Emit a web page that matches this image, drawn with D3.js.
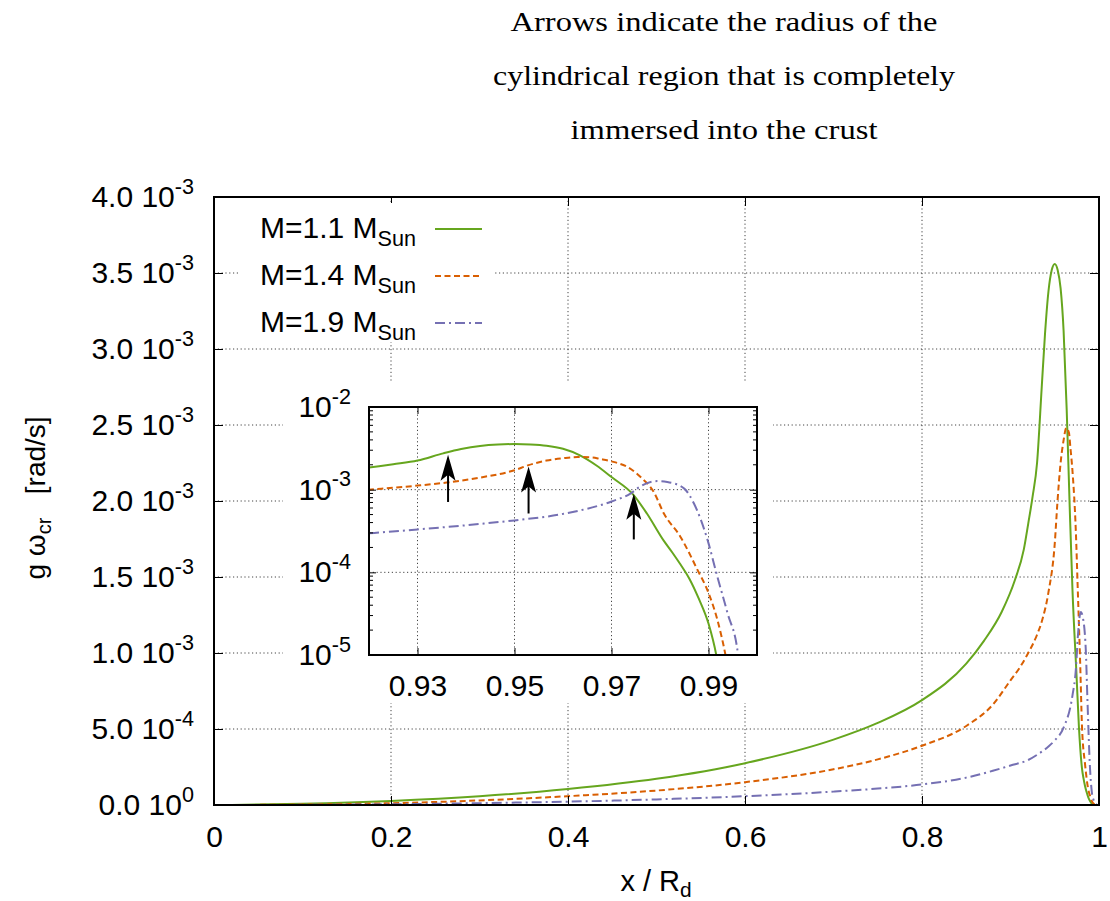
<!DOCTYPE html>
<html>
<head>
<meta charset="utf-8">
<script src="https://cdn.jsdelivr.net/npm/d3@7"></script>
<style>
  body { margin: 0; background: #fff; }
  svg { display: block; }
  .sans { font-family: "Liberation Sans", Arial, Helvetica, sans-serif; fill: #000; }
  .serif { font-family: "Liberation Serif", "Times New Roman", serif; fill: #000; }
</style>
</head>
<body>
<svg id="chart" width="1110" height="901"></svg>
<script>
// g*omega_cr in units of 1e-3 rad/s, as [x/R_d, value]
const m11 = [
  [0.02, 0], [0.1, 0.008], [0.2, 0.027], [0.3, 0.058], [0.4, 0.105], [0.5, 0.172],
  [0.6, 0.275], [0.7, 0.43], [0.75, 0.54], [0.8, 0.69], [0.85, 0.93], [0.87, 1.08],
  [0.89, 1.27], [0.905, 1.48], [0.915, 1.68], [0.92, 1.85], [0.925, 2.03], [0.93, 2.25],
  [0.9353, 2.75], [0.939, 3.1], [0.9429, 3.38], [0.9466, 3.52], [0.95, 3.56], [0.9533, 3.52],
  [0.9566, 3.4], [0.96, 3.12], [0.9635, 2.6], [0.9669, 1.96], [0.97, 1.42], [0.9746, 0.855],
  [0.9773, 0.515], [0.9808, 0.24], [0.9825, 0.175], [0.9842, 0.125], [0.986, 0.085],
  [0.988, 0.048], [0.99, 0.024], [0.9916, 0.010], [0.993, 0.003], [0.994, 0]
];
const m14 = [
  [0.02, 0], [0.1, 0.003], [0.2, 0.012], [0.3, 0.03], [0.4, 0.058], [0.5, 0.095],
  [0.6, 0.15], [0.7, 0.235], [0.75, 0.3], [0.8, 0.39], [0.85, 0.52], [0.88, 0.66],
  [0.9, 0.82], [0.91, 0.9], [0.92, 1.0], [0.93, 1.12], [0.936, 1.22], [0.9429, 1.4],
  [0.95, 1.72], [0.9529, 1.98], [0.9566, 2.25], [0.96, 2.4], [0.963, 2.48], [0.966, 2.45],
  [0.9677, 2.35], [0.97, 2.2], [0.9739, 1.79], [0.976, 1.42], [0.9787, 0.94], [0.9808, 0.515],
  [0.9842, 0.27], [0.9877, 0.108], [0.99, 0.0565], [0.9918, 0.027], [0.9935, 0.010],
  [0.995, 0.003], [0.996, 0]
];
const m19 = [
  [0.02, 0], [0.1, 0.001], [0.2, 0.005], [0.3, 0.012], [0.4, 0.022], [0.5, 0.037],
  [0.6, 0.058], [0.7, 0.088], [0.75, 0.108], [0.8, 0.135], [0.85, 0.18], [0.88, 0.225],
  [0.9, 0.26], [0.92, 0.296], [0.93, 0.33], [0.9429, 0.385], [0.95, 0.425], [0.9601, 0.51],
  [0.97, 0.72], [0.9739, 0.896], [0.976, 1.1], [0.9794, 1.27], [0.9815, 1.24], [0.985, 1.03],
  [0.987, 0.68], [0.9898, 0.247], [0.9918, 0.0896], [0.9939, 0.0325], [0.9961, 0.010],
  [0.997, 0.003], [0.998, 0]
];

const seriesMass = ['1.1', '1.4', '1.9'];
const seriesColors = ['#66a61e', '#d95f02', '#7570b3'];
const seriesDash = [null, '6,3.5', '10,4,2,4'];

const xTicks = [0, 0.2, 0.4, 0.6, 0.8, 1];
const yTicks = [0, 0.5e-3, 1.0e-3, 1.5e-3, 2.0e-3, 2.5e-3, 3.0e-3, 3.5e-3, 4.0e-3];
const insetXTicks = [0.93, 0.95, 0.97, 0.99];
const insetYTicks = [1e-5, 1e-4, 1e-3, 1e-2];

// arrows: radius of the cylinder fully inside the crust
const arrowX = [0.9363, 0.9529, 0.9746];
const arrowTail = [7.1e-4, 5.15e-4, 2.5e-4];
const arrowTip = [2.65e-3, 1.9e-3, 8.95e-4];

const titleLines = [
  'Arrows indicate the radius of the',
  'cylindrical region that is completely',
  'immersed into the crust'
];
const titleWidths = [427, 462, 307];

const series = [m11, m14, m19].map((rows) => rows.map((d) => [d[0], d[1] * 1e-3]));

const svg = d3.select('#chart');
const main = { left: 214, right: 1099, top: 197, bottom: 805 };
const inset = { left: 369, right: 757, top: 407, bottom: 655 };
const FONT = 30;

const x = d3.scaleLinear().domain([0, 1]).range([main.left, main.right]);
const y = d3.scaleLinear().domain([0, 4e-3]).range([main.bottom, main.top]);
const xi = d3.scaleLinear().domain([0.92, 1.0]).range([inset.left, inset.right]);
const yi = d3.scaleLog().domain([1e-5, 1e-2]).range([inset.bottom, inset.top]);

let defs = svg.append('defs');
defs.append('clipPath').attr('id', 'clip-main').append('rect')
  .attr('x', main.left).attr('y', main.top)
  .attr('width', main.right - main.left).attr('height', main.bottom - main.top);
defs.append('clipPath').attr('id', 'clip-inset').append('rect')
  .attr('x', inset.left).attr('y', inset.top)
  .attr('width', inset.right - inset.left).attr('height', inset.bottom - inset.top);

let gridStyle = (sel) => sel
  .attr('stroke', '#444')
  .attr('stroke-width', 1)
  .attr('stroke-dasharray', '1.2,2.6');

// title
svg.append('g').selectAll('text')
  .data(titleLines)
  .join('text')
  .attr('class', 'serif')
  .attr('x', 724)
  .attr('y', (d, i) => 31 + i * 54)
  .attr('text-anchor', 'middle')
  .attr('font-size', 28)
  .attr('textLength', (d, i) => titleWidths[i])
  .attr('lengthAdjust', 'spacingAndGlyphs')
  .text((d) => d);

// main grid
svg.append('g').selectAll('line')
  .data(xTicks.filter((t) => t > 0 && t < 1))
  .join('line')
  .attr('x1', (d) => x(d)).attr('x2', (d) => x(d))
  .attr('y1', main.top).attr('y2', main.bottom)
  .call(gridStyle);
svg.append('g').selectAll('line')
  .data(yTicks.filter((t) => t > 0 && t < 4e-3))
  .join('line')
  .attr('x1', main.left).attr('x2', main.right)
  .attr('y1', (d) => y(d)).attr('y2', (d) => y(d))
  .call(gridStyle);

// main curves
let line = d3.line()
  .x((d) => x(d[0]))
  .y((d) => y(d[1]))
  .curve(d3.curveMonotoneX);

svg.append('g').attr('clip-path', 'url(#clip-main)')
  .selectAll('path')
  .data(series)
  .join('path')
  .attr('fill', 'none')
  .attr('stroke', (d, i) => seriesColors[i])
  .attr('stroke-width', 2)
  .attr('stroke-dasharray', (d, i) => seriesDash[i])
  .attr('d', line);

// superscript labels like 2.5 10^-3
let sciLabel = function(text, mant, exp) {
  text.text(null);
  text.append('tspan').text(mant + '10');
  text.append('tspan').attr('font-size', '0.72em').attr('dy', '-0.62em').text(exp);
};

let styleAxis = (g) => {
  g.select('.domain').remove();
  g.selectAll('.tick line').attr('stroke', '#000').attr('stroke-width', 1);
  g.selectAll('.tick text').attr('class', 'sans').attr('font-family', null);
};

let axisX = svg.append('g')
  .attr('transform', `translate(0,${main.bottom})`)
  .call(d3.axisBottom(x).tickValues(xTicks).tickSizeInner(-9).tickSizeOuter(0)
    .tickPadding(21).tickFormat(d3.format('')))
  .call(styleAxis);
axisX.selectAll('text').attr('font-size', FONT);

svg.append('g')
  .attr('transform', `translate(0,${main.top})`)
  .call(d3.axisTop(x).tickValues(xTicks).tickSizeInner(-9).tickSizeOuter(0).tickFormat(() => ''))
  .call(styleAxis);

let axisY = svg.append('g')
  .attr('transform', `translate(${main.left},0)`)
  .call(d3.axisLeft(y).tickValues(yTicks).tickSizeInner(-9).tickSizeOuter(0).tickPadding(20))
  .call(styleAxis);
axisY.selectAll('.tick text')
  .attr('font-size', FONT)
  .each(function(d) {
    let exp = d === 0 ? 0 : Math.floor(Math.log10(d) + 1e-9);
    let mant = d === 0 ? 0 : d / Math.pow(10, exp);
    sciLabel(d3.select(this), mant.toFixed(1) + ' ', exp);
  });

svg.append('g')
  .attr('transform', `translate(${main.right},0)`)
  .call(d3.axisRight(y).tickValues(yTicks).tickSizeInner(-9).tickSizeOuter(0).tickFormat(() => ''))
  .call(styleAxis);

// axis titles
let yTitle = svg.append('text')
  .attr('class', 'sans')
  .attr('font-size', 28)
  .attr('text-anchor', 'middle')
  .attr('transform', 'translate(45,498) rotate(-90)')
  .style('white-space', 'pre');
yTitle.append('tspan').text('g \u03c9');
yTitle.append('tspan').attr('font-size', '0.72em').attr('dy', '0.3em').text('cr');
yTitle.append('tspan').attr('dy', '-0.216em').text('   [rad/s]');

let xTitle = svg.append('text')
  .attr('class', 'sans')
  .attr('font-size', 29)
  .attr('text-anchor', 'middle')
  .attr('x', 656)
  .attr('y', 891);
xTitle.append('tspan').text('x / R');
xTitle.append('tspan').attr('font-size', '0.72em').attr('dy', '0.3em').text('d');

// inset
svg.append('rect')
  .attr('x', 283).attr('y', 383)
  .attr('width', 490).attr('height', 320)
  .attr('fill', '#fff');

svg.append('g').selectAll('line')
  .data(insetXTicks)
  .join('line')
  .attr('x1', (d) => xi(d)).attr('x2', (d) => xi(d))
  .attr('y1', inset.top).attr('y2', inset.bottom)
  .call(gridStyle);
svg.append('g').selectAll('line')
  .data(insetYTicks.slice(1, -1))
  .join('line')
  .attr('x1', inset.left).attr('x2', inset.right)
  .attr('y1', (d) => yi(d)).attr('y2', (d) => yi(d))
  .call(gridStyle);

let lineLog = d3.line()
  .x((d) => xi(d[0]))
  .y((d) => yi(d[1]))
  .curve(d3.curveMonotoneX);

svg.append('g').attr('clip-path', 'url(#clip-inset)')
  .selectAll('path')
  .data(series.map((s) => s.filter((d) => d[0] >= 0.91 && d[1] > 0)))
  .join('path')
  .attr('fill', 'none')
  .attr('stroke', (d, i) => seriesColors[i])
  .attr('stroke-width', 2)
  .attr('stroke-dasharray', (d, i) => seriesDash[i])
  .attr('d', lineLog);

let minorTicks = [];
insetYTicks.slice(0, -1).forEach((t) => {
  for (let k = 2; k < 10; ++k) minorTicks.push(t * k);
});

let axisXi = svg.append('g')
  .attr('transform', `translate(0,${inset.bottom})`)
  .call(d3.axisBottom(xi).tickValues(insetXTicks).tickSizeInner(-7).tickSizeOuter(0)
    .tickPadding(20).tickFormat(d3.format('.2f')))
  .call(styleAxis);
axisXi.selectAll('text').attr('font-size', FONT);

svg.append('g')
  .attr('transform', `translate(0,${inset.top})`)
  .call(d3.axisTop(xi).tickValues(insetXTicks).tickSizeInner(-7).tickSizeOuter(0).tickFormat(() => ''))
  .call(styleAxis);

let axisYi = svg.append('g')
  .attr('transform', `translate(${inset.left},0)`)
  .call(d3.axisLeft(yi).tickValues(insetYTicks).tickSizeInner(-7).tickSizeOuter(0).tickPadding(18))
  .call(styleAxis);
axisYi.selectAll('.tick text')
  .attr('font-size', FONT)
  .each(function(d) {
    sciLabel(d3.select(this), '', Math.round(Math.log10(d)));
  });

svg.append('g')
  .attr('transform', `translate(${inset.right},0)`)
  .call(d3.axisRight(yi).tickValues(insetYTicks).tickSizeInner(-7).tickSizeOuter(0).tickFormat(() => ''))
  .call(styleAxis);

// log minor ticks, both sides
[[inset.left, 4], [inset.right, -4]].forEach(([px, len]) => {
  svg.append('g').selectAll('line')
    .data(minorTicks)
    .join('line')
    .attr('x1', px).attr('x2', px + len)
    .attr('y1', (d) => yi(d)).attr('y2', (d) => yi(d))
    .attr('stroke', '#000');
});

svg.append('rect')
  .attr('x', inset.left).attr('y', inset.top)
  .attr('width', inset.right - inset.left).attr('height', inset.bottom - inset.top)
  .attr('fill', 'none').attr('stroke', '#000').attr('stroke-width', 2);

// arrows
let arrows = svg.append('g').selectAll('g')
  .data(arrowX.map((ax, i) => ({ x: ax, tail: arrowTail[i], tip: arrowTip[i] })))
  .join('g')
  .attr('transform', (d) => `translate(${xi(d.x)},${yi(d.tip)})`);
arrows.append('line')
  .attr('x1', 0).attr('x2', 0)
  .attr('y1', 18).attr('y2', (d) => yi(d.tail) - yi(d.tip))
  .attr('stroke', '#000').attr('stroke-width', 2);
arrows.append('path')
  .attr('d', 'M0,0 L7.5,26 L0,20 L-7.5,26 Z')
  .attr('fill', '#000');

// legend
svg.append('rect')
  .attr('x', 238).attr('y', 203)
  .attr('width', 257).attr('height', 139)
  .attr('fill', '#fff');

let legend = svg.append('g').selectAll('g')
  .data(seriesMass)
  .join('g')
  .attr('transform', (d, i) => `translate(0,${229 + i * 47})`);
legend.append('line')
  .attr('x1', 435).attr('x2', 482)
  .attr('stroke', (d, i) => seriesColors[i])
  .attr('stroke-width', 2)
  .attr('stroke-dasharray', (d, i) => seriesDash[i]);
let legendText = legend.append('text')
  .attr('class', 'sans')
  .attr('font-size', FONT)
  .attr('text-anchor', 'end')
  .attr('x', 416)
  .attr('y', 9);
legendText.append('tspan').text((d) => `M=${d} M`);
legendText.append('tspan').attr('font-size', '0.72em').attr('dy', '0.35em').text('Sun');

// main frame on top
svg.append('rect')
  .attr('x', main.left).attr('y', main.top)
  .attr('width', main.right - main.left).attr('height', main.bottom - main.top)
  .attr('fill', 'none').attr('stroke', '#000').attr('stroke-width', 2);
</script>
</body>
</html>
